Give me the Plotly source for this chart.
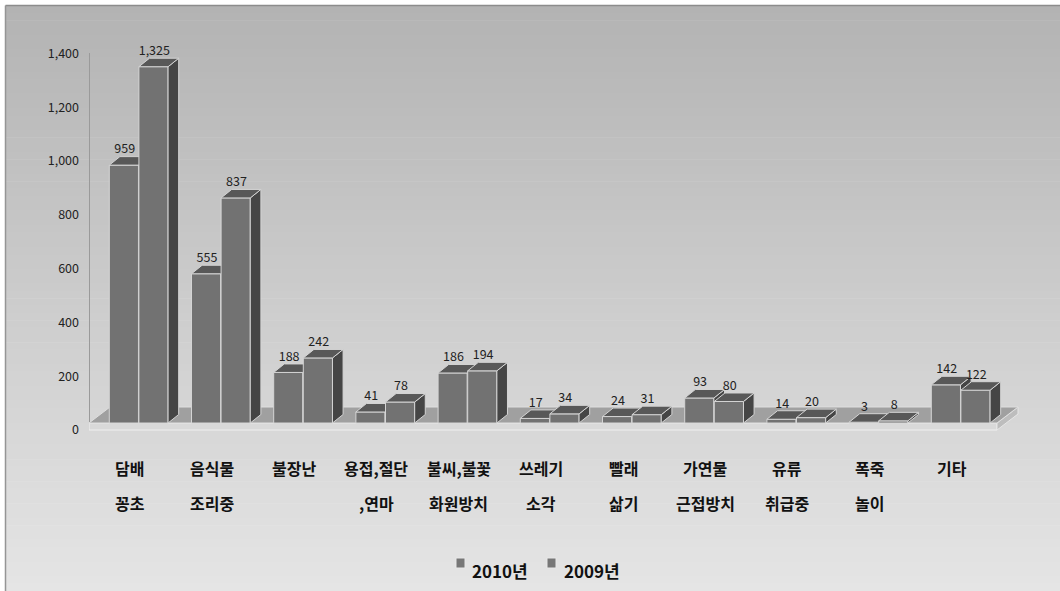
import plotly.graph_objects as go

# ---- data -------------------------------------------------------------
categories = ["담배\n꽁초", "음식물\n조리중", "불장난", "용접,절단\n,연마", "불씨,불꽃\n화원방치",
              "쓰레기\n소각", "빨래\n삶기", "가연물\n근접방치", "유류\n취급중", "폭죽\n놀이", "기타"]
series_names = ["2010년", "2009년"]
values_2010 = [959, 555, 188, 41, 186, 17, 24, 93, 14, 3, 142]
values_2009 = [1325, 837, 242, 78, 194, 34, 31, 80, 20, 8, 122]
y_ticks = [0, 200, 400, 600, 800, 1000, 1200, 1400]

# ---- geometry of the pseudo-3D columns ---------------------------------
W, H = 1060, 591
M_L, M_R, M_T, M_B = 89, 40, 30, 131
PW, PH = W - M_L - M_R, H - M_T - M_B
X_RANGE = [-0.602, 10.724]
PX_PER_Y = 0.2689                       # pixels per value unit
Y0_PX = 423                             # pixel row of value 0
Y_RANGE = [-(M_T + PH - Y0_PX) / PX_PER_Y, (Y0_PX - M_T) / PX_PER_Y]
PX_PER_X = PW / (X_RANGE[1] - X_RANGE[0])

BAR_W = 0.355
DX = 10.6 / PX_PER_X                    # depth offset, x units
DY = 8.5 / PX_PER_Y                     # depth offset, y units

FRONT, TOP, SIDE, EDGE = "#727272", "#585858", "#454545", "#d4d4d4"
FONT = "Noto Sans CJK KR"


def px_to_paper_x(px):
    return (px - M_L) / PW


def px_to_paper_y(py):
    return (M_T + PH - py) / PH


def polys(shapes):
    xs, ys = [], []
    for pts in shapes:
        for x, y in pts:
            xs.append(x)
            ys.append(y)
        xs.append(pts[0][0]); ys.append(pts[0][1])
        xs.append(None); ys.append(None)
    return xs, ys


fig = go.Figure()

# ---- floor slab ---------------------------------------------------------
fl_x0 = X_RANGE[0]
fl_x1 = (997 - M_L) / PX_PER_X + X_RANGE[0]
fdx, fdy = 21 / PX_PER_X, 16 / PX_PER_Y
thick = 7 / PX_PER_Y
floor_parts = [
    ([(fl_x0, 0), (fl_x1, 0), (fl_x1, -thick), (fl_x0, -thick)], "#d9d9d9", "#efefef"),
    ([(fl_x1, 0), (fl_x1 + fdx, fdy), (fl_x1 + fdx, fdy - thick), (fl_x1, -thick)], "#bdbdbd", "#e6e6e6"),
    ([(fl_x0, 0), (fl_x1, 0), (fl_x1 + fdx, fdy), (fl_x0 + fdx, fdy)], "#a0a0a0", "#dedede"),
]
for pts, fc, lc in floor_parts:
    xs, ys = polys([pts])
    fig.add_trace(go.Scatter(x=xs, y=ys, mode="lines", fill="toself", fillcolor=fc,
                             line=dict(color=lc, width=1), hoverinfo="skip", showlegend=False))

# ---- columns (left series first so the right one paints over it) -------
for s, (name, vals) in enumerate(zip(series_names, [values_2010, values_2009])):
    fronts, sides, tops = [], [], []
    cx, cy = [], []
    for i, v in enumerate(vals):
        x0 = i - 0.36 + s * 0.36 + 0.005
        x1 = x0 + BAR_W
        fronts.append([(x0, 0), (x1, 0), (x1, v), (x0, v)])
        sides.append([(x1, 0), (x1 + DX, DY), (x1 + DX, v + DY), (x1, v)])
        tops.append([(x0, v), (x1, v), (x1 + DX, v + DY), (x0 + DX, v + DY)])
        cx.append((x0 + x1) / 2 + 0.01)
        cy.append(v + DY)
    for shapes, col in ((fronts, FRONT), (sides, SIDE), (tops, TOP)):
        xs, ys = polys(shapes)
        fig.add_trace(go.Scatter(x=xs, y=ys, mode="lines", fill="toself", fillcolor=col,
                                 line=dict(color=EDGE, width=1), name=name,
                                 hoverinfo="skip", showlegend=False))
    fig.add_trace(go.Scatter(
        x=cx, y=cy, mode="text", text=[f"{v:,}" for v in vals],
        textposition="top center", textfont=dict(family=FONT, size=12.5, color="#222"),
        hovertext=[f"{c.replace(chr(10), ' ')} {name}: {v:,}" for c, v in zip(categories, vals)],
        hoverinfo="text", showlegend=False, cliponaxis=False))

# ---- background gradient and frame -------------------------------------
shapes = []
N = 80
top_c, bot_c = 0xB3, 0xE5
for k in range(N):
    y_a = 5.5 + (H - 5.5) * k / N
    y_b = 5.5 + (H - 5.5) * (k + 1) / N + 0.6
    g = round(top_c + (bot_c - top_c) * (k + 0.5) / N)
    col = f"rgb({g},{g},{g})"
    shapes.append(dict(type="rect", xref="paper", yref="paper", layer="below",
                       x0=px_to_paper_x(5.5), x1=px_to_paper_x(W + 2),
                       y0=px_to_paper_y(y_a), y1=px_to_paper_y(y_b),
                       fillcolor=col, line=dict(width=0)))
shapes.append(dict(type="line", xref="paper", yref="paper", layer="below",
                   x0=px_to_paper_x(5.5), x1=px_to_paper_x(W + 2),
                   y0=px_to_paper_y(5.5), y1=px_to_paper_y(5.5),
                   line=dict(color="#8c8c8c", width=1.5)))
shapes.append(dict(type="line", xref="paper", yref="paper", layer="below",
                   x0=px_to_paper_x(5.5), x1=px_to_paper_x(5.5),
                   y0=px_to_paper_y(5.5), y1=px_to_paper_y(H + 2),
                   line=dict(color="#959595", width=1.5)))
# left wall edge
shapes.append(dict(type="line", xref="paper", yref="y", layer="below",
                   x0=px_to_paper_x(89.5), x1=px_to_paper_x(89.5),
                   y0=-thick, y1=(Y0_PX - 53) / PX_PER_Y,
                   line=dict(color="#9a9a9a", width=1)))

# ---- legend (squares + labels) -----------------------------------------
legend_items = [(456, 470), (547, 562)]
annotations = []
for (sq_x, tx), name in zip(legend_items, series_names):
    shapes.append(dict(type="rect", xref="paper", yref="paper",
                       x0=px_to_paper_x(sq_x), x1=px_to_paper_x(sq_x + 9),
                       y0=px_to_paper_y(568), y1=px_to_paper_y(558),
                       fillcolor="#777777", line=dict(color="#e8e8e8", width=1)))
    annotations.append(dict(xref="paper", yref="paper", x=px_to_paper_x(tx), y=px_to_paper_y(570),
                            xanchor="left", yanchor="middle", showarrow=False,
                            text=f"<b>{name}</b>", font=dict(family=FONT, size=17, color="#111")))

# ---- category labels (two rows) ----------------------------------------
for i, cat in enumerate(categories):
    lines = cat.split("\n")
    for r, line in enumerate(lines):
        annotations.append(dict(xref="x", yref="paper", x=i - 0.105,
                                y=px_to_paper_y(468 + 35 * r), xanchor="center",
                                yanchor="middle", showarrow=False, text=f"<b>{line}</b>",
                                font=dict(family=FONT, size=16, color="#111")))

fig.update_layout(
    width=W, height=H,
    margin=dict(l=M_L, r=M_R, t=M_T, b=M_B, pad=0),
    paper_bgcolor="white", plot_bgcolor="rgba(0,0,0,0)",
    showlegend=False,
    shapes=shapes, annotations=annotations,
    xaxis=dict(range=X_RANGE, showgrid=False, zeroline=False, showticklabels=False,
               showline=False, fixedrange=True),
    yaxis=dict(range=Y_RANGE, showgrid=False, zeroline=False, showline=False,
               tickvals=y_ticks, ticktext=[f"{v:,}" for v in y_ticks],
               tickfont=dict(family=FONT, size=12.5, color="#222"),
               ticklabelshift=7, ticklabelstandoff=9, fixedrange=True),
)

fig.write_html("out.html")
